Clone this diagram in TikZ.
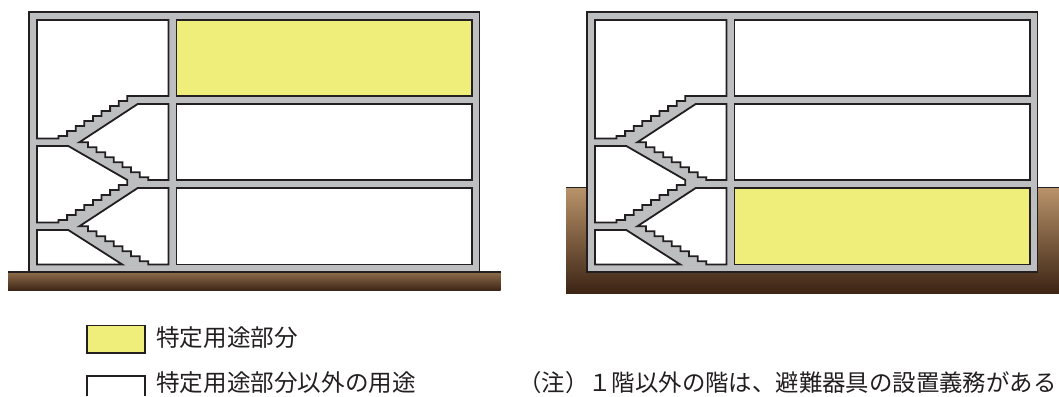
\documentclass[tikz,border=0pt]{standalone}
\usepackage{fontspec}
\newfontfamily\cjkfont{Noto Sans CJK JP}
\definecolor{wallgray}{HTML}{BCBEC0}
\definecolor{inkline}{HTML}{231F20}
\definecolor{useyellow}{HTML}{F0EE7A}
\tikzset{
  wall/.style={draw=inkline,line width=1.8pt,fill=wallgray,line join=miter},
  room/.style={draw=inkline,line width=1.8pt,fill=white,line join=miter},
  special/.style={draw=inkline,line width=1.8pt,fill=useyellow,line join=miter},
  label/.style={inner sep=0pt,anchor=base west,font=\cjkfont\fontsize{23.6}{23.6}\selectfont,text=inkline},
}
\newcommand{\upsteps}{ -- ++(0,5) -- ++(-8.6,0) -- ++(0,5) -- ++(-8.6,0) -- ++(0,5) -- ++(-8.6,0) -- ++(0,5) -- ++(-8.6,0) -- ++(0,5) -- ++(-8.6,0) -- ++(0,5) -- ++(-8.6,0) -- ++(0,5) -- ++(-8.6,0) -- ++(0,5) -- ++(-8.6,0) }
\newcommand{\downsteps}{ -- ++(8.63,0) -- ++(0,5) -- ++(8.63,0) -- ++(0,5) -- ++(8.63,0) -- ++(0,5) -- ++(8.63,0) -- ++(0,5) -- ++(8.63,0) -- ++(0,5) -- ++(8.63,0) -- ++(0,5) -- ++(8.63,0) -- ++(0,5) -- ++(8.63,0) }
\newcommand{\building}[3]{%
  \begin{scope}[xshift=#1]
    \draw[wall] (29,12) rectangle (479.5,272);
    \draw[room] (37,20) -- (168.5,20) -- (168.5,96) -- (127.3,96) \upsteps -- (58.5,138.5) -- (37,138.5) -- cycle;
    \draw[room] (168.5,104) -- (137.7,104) -- (79.3,142.3) \downsteps -- (148.3,180) -- (168.5,180) -- cycle;
    \draw[room] (37,146) -- (68.3,146) -- (127.3,180) \upsteps -- (58.5,222.5) -- (37,222.5) -- cycle;
    \draw[room] (168.5,188) -- (137.7,188) -- (79.3,226.3) \downsteps -- (148.3,264.5) -- (168.5,264.5) -- cycle;
    \draw[room] (37,230) -- (68.3,230) -- (122.3,264.5) -- (37,264.5) -- cycle;
    \draw[#2] (176.5,20) rectangle (471.7,96);
    \draw[room] (176.5,104) rectangle (471.7,180);
    \draw[#3] (176.5,188) rectangle (471.7,264.5);
  \end{scope}}
\begin{document}
\begin{tikzpicture}[x=1pt,y=-1pt]
  \useasboundingbox (0,0) rectangle (1059,396);
  \shade[top color={rgb,255:red,143;green,109;blue,75},bottom color={rgb,255:red,62;green,38;blue,23}] (8,272) rectangle (500.7,290);
  \draw[inkline,line width=1.2pt] (8,272) -- (500.7,272);
  \shade[top color={rgb,255:red,185;green,147;blue,106},middle color={rgb,255:red,110;green,76;blue,48},bottom color={rgb,255:red,60;green,36;blue,20}] (566,187.5) rectangle (1059,293.5);
  \draw[inkline,line width=1.2pt] (566,187.5) -- (1059,187.5);
  \building{0pt}{special}{room}
  \building{558pt}{room}{special}
  \draw[special] (87,325.5) rectangle (145,353);
  \draw[draw=inkline,line width=1.8pt] (87,396) -- (87,376) -- (145,376) -- (145,396);
  \node[label] (legendA) at (156,346) {特定用途部分};
  \node[label] (legendB) at (156,391) {特定用途部分以外の用途};
  \node[label,font=\cjkfont\fontsize{23.4}{23.4}\selectfont] (note) at (518,391) {（注）１階以外の階は、避難器具の設置義務がある};
\end{tikzpicture}
\end{document}
